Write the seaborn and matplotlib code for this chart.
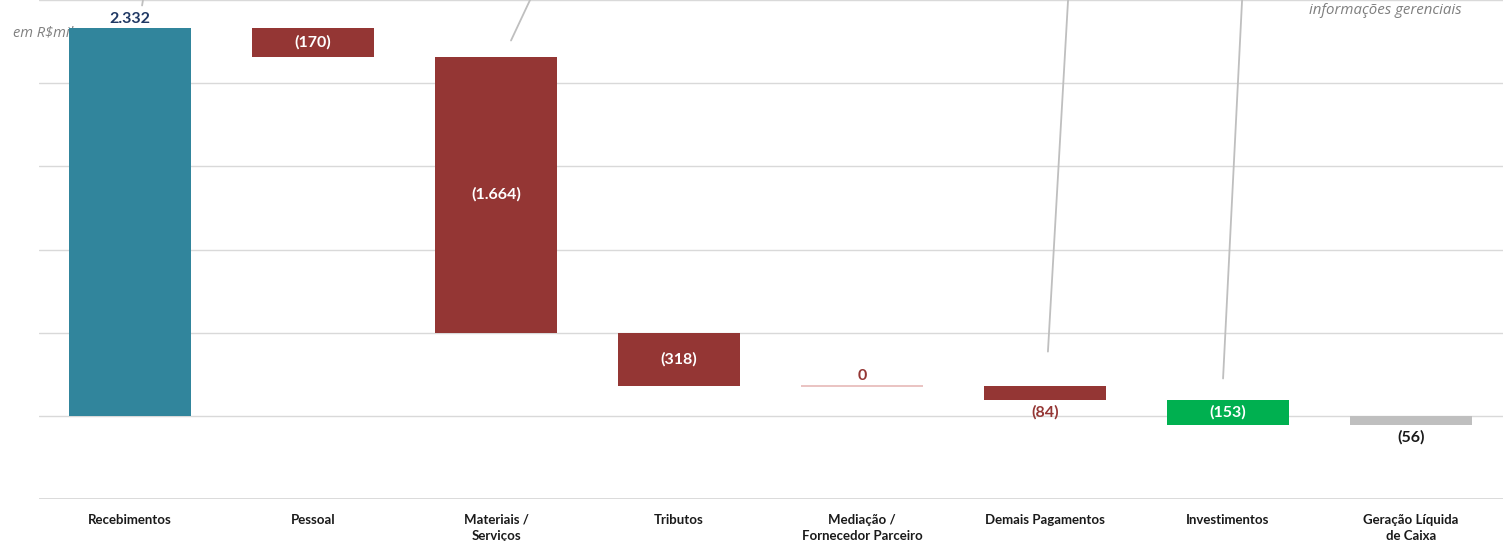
import matplotlib
matplotlib.use("Agg")
import matplotlib.pyplot as plt
import seaborn as sns
import numpy as np
import pandas as pd

categories = ["Recebimentos", "Pessoal", "Materiais /\nServiços", "Tributos",
              "Mediação /\nFornecedor Parceiro", "Demais Pagamentos",
              "Investimentos", "Geração Líquida\nde Caixa"]
values = [2332, -170, -1664, -318, 0, -84, -153, -56]
kinds = ["total", "step", "step", "step", "step", "step", "step", "result"]
bar_colors = ["#31859C", "#943634", "#943634", "#943634", "#943634", "#943634", "#00B050", "#BFBFBF"]
label_pos = ["above", "inside", "inside", "inside", "above", "below", "inside", "below"]
label_colors = ["#1F3864", "white", "white", "white", "#943634", "#943634", "white", "#1a1a1a"]
# leader lines (x0, y0, x1, y1) in data coordinates
leaders = [(0.071, 2503, 0.066, 2470), (2.186, 2503, 2.082, 2259),
           (5.126, 2503, 5.016, 385), (6.077, 2503, 5.973, 223)]

# waterfall geometry
bottoms, heights = [], []
running = 0
for v, k in zip(values, kinds):
    if k == "total":
        bottoms.append(0); heights.append(v); running = v
    elif k == "result":
        bottoms.append(0); heights.append(v)
    else:
        bottoms.append(running); heights.append(v); running += v

df = pd.DataFrame({"cat": categories, "h": heights})

sns.set_theme(style="white")
plt.rcParams["font.family"] = ["Lato", "DejaVu Sans"]

fig = plt.figure(figsize=(15.1, 5.41), dpi=100)
ax = fig.add_axes([38.5 / 1510, 42 / 541, 1464 / 1510, 499 / 541])

fig.text(13 / 1510, 1 - 33 / 541, "em R$mil", ha="left", va="center", fontsize=10.5,
         style="italic", color="#808080", family="Open Sans", zorder=0)
fig.text(1462 / 1510, 1 - 10 / 541, "informações gerenciais", ha="right", va="center",
         fontsize=10.8, style="italic", color="#7F7F7F", family="Open Sans")
ax.set_zorder(1)
ax.patch.set_alpha(0)

sns.barplot(data=df, x="cat", y="h", bottom=bottoms, color="#31859C", width=0.667,
            ax=ax, zorder=3, linewidth=0, errorbar=None)

for p, c, v in zip(ax.patches, bar_colors, values):
    p.set_facecolor(c)
    if v == 0:
        p.set_edgecolor("#E6B9B8")
        p.set_linewidth(1.2)
    else:
        p.set_edgecolor("none")

def fmt(v):
    s = f"{abs(v):,}".replace(",", ".")
    return f"({s})" if v < 0 else s

for i, (v, b, h, pos, lc) in enumerate(zip(values, bottoms, heights, label_pos, label_colors)):
    top = max(b, b + h)
    low = min(b, b + h)
    if pos == "inside":
        y, va, off = (top + low) / 2, "center", 0
    elif pos == "above":
        y, va, off = top, "bottom", 2
    else:
        y, va, off = low, "top", 4
    ax.annotate(fmt(v), (i, y), xytext=(0, off if pos == "above" else -off),
                textcoords="offset points", ha="center", va=va,
                fontsize=11.5, fontweight="bold", color=lc, zorder=5)

for x0, y0, x1, y1 in leaders:
    ax.plot([x0, x1], [y0, y1], color="#BFBFBF", lw=1.3, zorder=4, clip_on=False)

ax.set_xlim(-0.5, 7.5)
ax.set_ylim(-503, 2503)
ax.set_yticks(np.arange(-500, 2501, 500))
ax.set_yticklabels([])
ax.yaxis.grid(True, color="#D9D9D9", lw=1)
ax.axhline(-500, color="#D9D9D9", lw=1.3, zorder=1)
ax.set_axisbelow(True)
for s in ax.spines.values():
    s.set_visible(False)
ax.tick_params(axis="both", length=0)
ax.tick_params(axis="x", pad=10.5)
ax.set_xlabel("")
ax.set_ylabel("")
for t in ax.get_xticklabels():
    t.set_fontweight("bold")
    t.set_fontsize(9.5)
    t.set_color("#1a1a1a")
    t.set_linespacing(1.45)
    t.set_va("top")

fig.savefig("out.png", dpi=100)
